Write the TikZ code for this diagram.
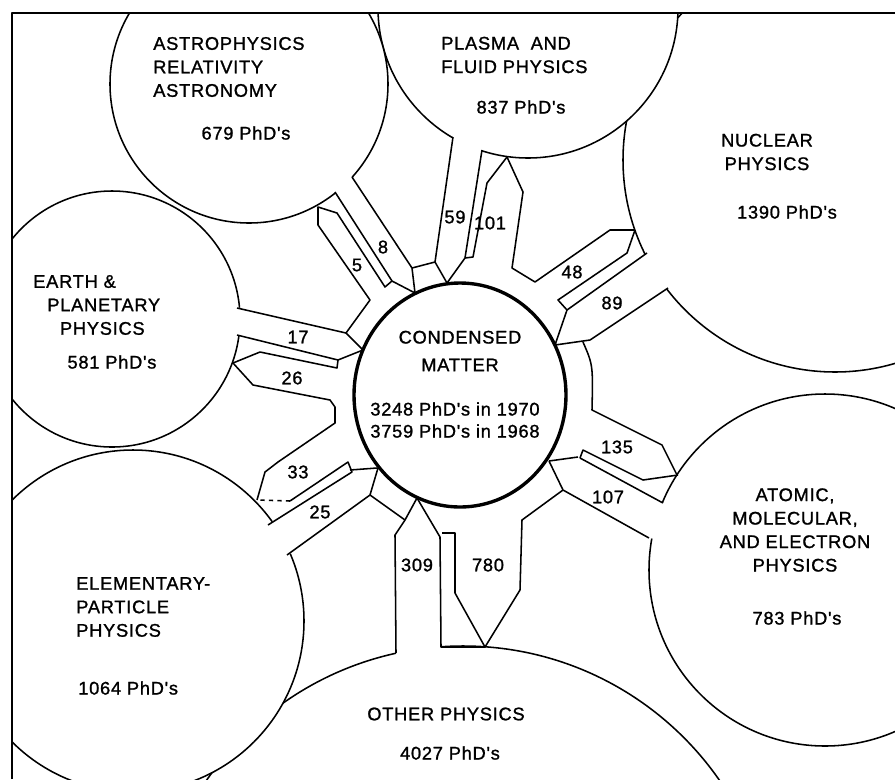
\documentclass[tikz,border=0pt]{standalone}
\usepackage{fontspec}
\newfontfamily\lettering[LetterSpace=4,FakeBold=1.2]{Liberation Sans}
\usetikzlibrary{calc}

% white patch over the arc where a channel opens into a circle
\newcommand{\cutarc}[3]{\fill[white] ($(#1)!0.9!(#2)$) -- ($(#1)!1.08!(#2)$) -- ($(#1)!1.08!(#3)$) -- ($(#1)!0.9!(#3)$) -- cycle;}

\begin{document}
\begin{tikzpicture}[x=0.025cm,y=-0.025cm,
  font=\lettering\fontsize{13pt}{16.7pt}\selectfont,
  line join=round,
  ring/.style={draw,fill=white,line width=1.1pt},
  band/.style={line width=1.1pt},
  num/.style={inner sep=1pt},
  title/.style={inner sep=0pt}]
  \useasboundingbox (0,0) rectangle (895,779);
  % centres
  \coordinate (cmC) at (460,395);
  \coordinate (astC) at (249,84);
  \coordinate (plaC) at (528,8);
  \coordinate (nucC) at (835,160);
  \coordinate (earC) at (112,319);
  \coordinate (eleC) at (133,621);
  \coordinate (othC) at (463,958);
  \coordinate (atoC) at (825,570);
  % outer fields
  \begin{scope}
    \clip (12,13) rectangle (895,779);
    \draw[ring] (nucC) circle[radius=212];
    \draw[ring] (plaC) circle[radius=150];
    \draw[ring] (astC) circle[radius=139];
    \draw[ring] (earC) circle[radius=128];
    \draw[ring] (othC) circle[radius=312];
    \draw[ring] (eleC) circle[radius=171];
    \draw[ring] (atoC) circle[radius=176];
  \end{scope}
  \draw[line width=2pt] (12,779) -- (12,13) -- (895,13);
  \cutarc{astC}{335,192}{352,177}
  \cutarc{plaC}{453,137}{482,150}
  \cutarc{nucC}{647,253}{668,288}
  \cutarc{atoC}{663,503}{649,538}
  \cutarc{othC}{396,653}{441,647}
  \cutarc{eleC}{268,525}{287,555}
  \cutarc{earC}{237,308}{237,335}
  % astrophysics
  \draw[band] (352,177) -- (412,268) -- (415,293);
  \draw[band] (412,268) -- (435,262);
  \draw[band] (335,192) -- (392,281) -- (385,287) -- (337,213) -- (318,207) -- (318,225) -- (370,300) -- (346,333) -- (363,350);
  \draw[band] (392,281) -- (415,293);
  % plasma
  \draw[band] (453,137) -- (435,262) -- (447,283);
  \draw[band] (482,150) -- (465,258) -- (473,257) -- (487,183) -- (507,157);
  \draw[band] (465,258) -- (447,283);
  \draw[band] (507,157) -- (523,192) -- (512,268) -- (535,282) -- (610,230) -- (635,230);
  % nuclear
  \draw[band] (635,230) -- (627,253) -- (558,300) -- (567,310) -- (647,253);
  \draw[band] (567,310) -- (555,345) -- (590,340) -- (668,288);
  \draw[band] (583,342) .. controls (593,365) .. (592,410) -- (662,445) -- (677,475);
  % atomic
  \draw[band] (549,461) -- (578,457);
  \draw[band] (580,458) -- (583,450) -- (643,480) -- (678,475);
  \draw[band] (580,458) -- (663,503);
  \draw[band] (549,461) -- (563,490) -- (649,538);
  % other
  \draw[band] (563,490) -- (522,520) -- (520,590) -- (485,647) -- (455,593) -- (455,533) -- (442,533);
  \draw[band] (417,498) -- (440,537) -- (441,647) -- (485,647);
  \draw[band] (417,498) -- (405,520) -- (395,535) -- (396,653);
  \draw[band] (405,520) -- (370,495) -- (378,468);
  % elementary
  \draw[band] (370,495) -- (287,555);
  \draw[band] (268,525) -- (352,472) -- (348,462) -- (290,501);
  \draw[band,dashed] (290,501) -- (257,500);
  \draw[band] (350,470) -- (377,468);
  \draw[band] (257,500) -- (265,472) -- (278,462) -- (335,423) -- (335,407) -- (330,400) -- (253,385) -- (233,363);
  % earth
  \draw[band] (237,335) -- (338,360) -- (337,368) -- (260,352) -- (233,363);
  \draw[band] (338,360) -- (363,350);
  \draw[band] (237,308) -- (346,333);
  % condensed matter
  \draw[line width=2.4pt,fill=white] (cmC) ellipse[x radius=106,y radius=112];
  \node[title,align=center] (cmT) at (460,351) {CONDENSED\\[3pt]MATTER};
  \node[title,align=center] (cmN) at (455,420) {3248 PhD's in 1970\\[-1pt]3759 PhD's in 1968};
  % field names
  \node[title,align=left,anchor=west] (astT) at (153,67) {ASTROPHYSICS\\RELATIVITY\\ASTRONOMY};
  \node[title] (astN) at (246,133) {679 PhD's};
  \node[title,align=left,anchor=west] (plaT) at (441,55) {PLASMA\ \ AND\\FLUID PHYSICS};
  \node[title] (plaN) at (521,107) {837 PhD's};
  \node[title,align=center] (nucT) at (767,152) {NUCLEAR\\PHYSICS};
  \node[title] (nucN) at (787,212) {1390 PhD's};
  \node[title,align=left,anchor=west] (earT) at (33,305) {EARTH \&\\\hspace*{10pt}PLANETARY\\\hspace*{19pt}PHYSICS};
  \node[title] (earN) at (112,362) {581 PhD's};
  \node[title,align=left,anchor=west] (eleT) at (76,607) {ELEMENTARY-\\PARTICLE\\PHYSICS};
  \node[title,anchor=west] (eleN) at (78,688) {1064 PhD's};
  \node[title] (othT) at (446,714) {OTHER PHYSICS};
  \node[title] (othN) at (450,753) {4027 PhD's};
  \node[title,align=center] (atoT) at (795,530) {ATOMIC,\\MOLECULAR,\\AND ELECTRON\\PHYSICS};
  \node[title] (atoN) at (797,618) {783 PhD's};
  % flows
  \node[num] (n8) at (383,247) {8};
  \node[num] (n5) at (357,265) {5};
  \node[num] (n59) at (455,217) {59};
  \node[num] (n101) at (490,223) {101};
  \node[num] (n48) at (572,272) {48};
  \node[num] (n89) at (612,303) {89};
  \node[num] (n135) at (617,447) {135};
  \node[num] (n107) at (608,497) {107};
  \node[num] (n309) at (417,565) {309};
  \node[num] (n780) at (488,565) {780};
  \node[num] (n25) at (320,512) {25};
  \node[num] (n33) at (298,472) {33};
  \node[num] (n26) at (292,378) {26};
  \node[num] (n17) at (298,337) {17};
\end{tikzpicture}
\end{document}
